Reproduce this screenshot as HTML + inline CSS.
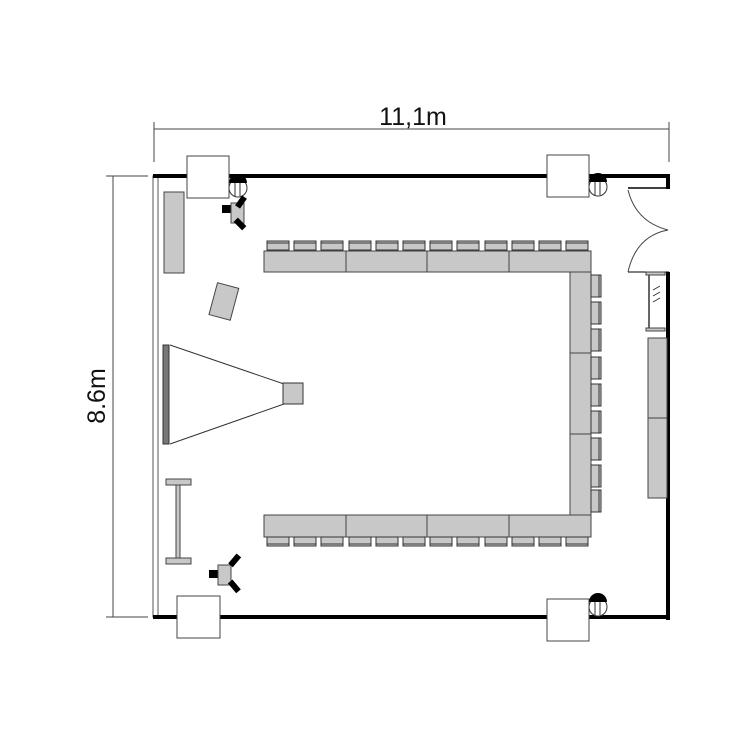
<!DOCTYPE html>
<html><head><meta charset="utf-8"><style>
html,body{margin:0;padding:0;background:#fff;}
svg{display:block;}
text{font-family:"Liberation Sans",sans-serif;}
</style></head><body>
<svg width="749" height="746" viewBox="0 0 749 746" xmlns="http://www.w3.org/2000/svg">
<defs>
<g id="ch"><rect x="0" y="0" width="22" height="9" fill="#c8c8c8" stroke="#333" stroke-width="1"/><line x1="0" y1="2" x2="22" y2="2" stroke="#333" stroke-width="1"/></g>
<g id="chd"><rect x="0" y="0" width="22" height="9" fill="#c8c8c8" stroke="#333" stroke-width="1"/><line x1="0" y1="7" x2="22" y2="7" stroke="#333" stroke-width="1"/></g>
<g id="chr"><rect x="0" y="0" width="10" height="22" fill="#c8c8c8" stroke="#333" stroke-width="1"/><line x1="8" y1="0" x2="8" y2="22" stroke="#333" stroke-width="1"/></g>
</defs>
<line x1="154" y1="129" x2="669" y2="129" stroke="#444" stroke-width="1"/>
<line x1="154" y1="122" x2="154" y2="162" stroke="#444" stroke-width="1"/>
<line x1="669" y1="122" x2="669" y2="162" stroke="#444" stroke-width="1"/>
<text x="413" y="125" font-size="25" text-anchor="middle" fill="#111">11,1m</text>
<line x1="113" y1="176" x2="113" y2="617" stroke="#444" stroke-width="1"/>
<line x1="106" y1="176" x2="148" y2="176" stroke="#444" stroke-width="1"/>
<line x1="106" y1="617" x2="148" y2="617" stroke="#444" stroke-width="1"/>
<text x="0" y="0" font-size="25" text-anchor="middle" fill="#111" transform="translate(105,396) rotate(-90)">8.6m</text>
<rect x="153" y="176" width="5" height="441" fill="#fff" stroke="#555" stroke-width="1"/>
<rect x="153" y="174" width="516" height="4" fill="#000"/>
<rect x="666" y="174" width="4" height="15" fill="#000"/>
<line x1="628" y1="188" x2="669" y2="188" stroke="#000" stroke-width="1.5"/>
<rect x="666" y="272" width="4" height="348" fill="#000"/>
<rect x="153" y="615" width="517" height="4" fill="#000"/>
<line x1="628" y1="272" x2="669" y2="272" stroke="#000" stroke-width="1"/>
<path d="M628,190 Q636,222 668,230 Q636,236 628,272" fill="none" stroke="#444" stroke-width="1"/>
<rect x="187" y="156" width="42" height="42" fill="#fff" stroke="#444" stroke-width="1"/>
<rect x="547" y="155" width="42" height="42" fill="#fff" stroke="#444" stroke-width="1"/>
<rect x="177" y="596" width="43" height="42" fill="#fff" stroke="#444" stroke-width="1"/>
<rect x="547" y="599" width="42" height="42" fill="#fff" stroke="#444" stroke-width="1"/>
<g fill="#fff" stroke="#333" stroke-width="1">
<circle cx="238" cy="188" r="9"/><circle cx="598" cy="187" r="9"/><circle cx="598" cy="607" r="9"/>
</g>
<g stroke="#333" stroke-width="1">
<line x1="235" y1="182" x2="235" y2="196"/><line x1="240" y1="182" x2="240" y2="196"/>
<line x1="595" y1="181" x2="595" y2="195"/><line x1="600" y1="181" x2="600" y2="195"/>
<line x1="595" y1="601" x2="595" y2="615"/><line x1="600" y1="601" x2="600" y2="615"/>
</g>
<path d="M229,183 A9,9 0 0 1 247,183 Z" fill="#000"/>
<path d="M589,182 A9,9 0 0 1 607,182 Z" fill="#000"/>
<path d="M589,602 A9,9 0 0 1 607,602 Z" fill="#000"/>
<rect x="164" y="192" width="20" height="81" fill="#c8c8c8" stroke="#444" stroke-width="1"/>
<rect x="213" y="285" width="22" height="33" fill="#c8c8c8" stroke="#444" stroke-width="1" transform="rotate(15 224 301)"/>
<rect x="222" y="205" width="9" height="8" fill="#000"/>
<rect x="231" y="203" width="13" height="20" fill="#c8c8c8" stroke="#444" stroke-width="1"/>
<rect x="238" y="196" width="6" height="12" fill="#000" transform="rotate(35 241 202)"/>
<rect x="237" y="218" width="6" height="12" fill="#000" transform="rotate(-45 240 224)"/>
<rect x="209" y="570" width="9" height="8" fill="#000"/>
<rect x="218" y="565" width="13" height="20" fill="#c8c8c8" stroke="#444" stroke-width="1"/>
<rect x="232" y="554" width="6" height="13" fill="#000" transform="rotate(40 235 560)"/>
<rect x="231" y="580" width="6" height="13" fill="#000" transform="rotate(-40 234 586)"/>
<rect x="163" y="345" width="6" height="99" fill="#777" stroke="#333" stroke-width="1"/>
<line x1="170" y1="345" x2="284" y2="384" stroke="#333" stroke-width="1"/>
<line x1="170" y1="444" x2="284" y2="404" stroke="#333" stroke-width="1"/>
<rect x="283" y="383" width="20" height="21" fill="#c8c8c8" stroke="#333" stroke-width="1"/>
<rect x="166" y="479" width="25" height="6" fill="#c8c8c8" stroke="#444" stroke-width="1"/>
<rect x="166" y="558" width="25" height="6" fill="#c8c8c8" stroke="#444" stroke-width="1"/>
<rect x="176" y="485" width="4" height="73" fill="#c8c8c8" stroke="#444" stroke-width="1"/>
<line x1="649" y1="274" x2="649" y2="331" stroke="#333" stroke-width="1.5"/>
<rect x="646" y="272" width="19" height="3" fill="#c8c8c8" stroke="#444" stroke-width="1"/>
<rect x="646" y="328" width="19" height="3" fill="#c8c8c8" stroke="#444" stroke-width="1"/>
<line x1="653" y1="290" x2="660" y2="286" stroke="#333"/><line x1="653" y1="296" x2="660" y2="292" stroke="#333"/><line x1="653" y1="302" x2="660" y2="298" stroke="#333"/>
<rect x="648" y="338" width="19" height="80" fill="#c8c8c8" stroke="#444" stroke-width="1"/>
<rect x="648" y="418" width="19" height="80" fill="#c8c8c8" stroke="#444" stroke-width="1"/>
<g fill="#c8c8c8" stroke="#444" stroke-width="1">
<rect x="264" y="251" width="82" height="21"/><rect x="346" y="251" width="81" height="21"/><rect x="427" y="251" width="82" height="21"/><rect x="509" y="251" width="82" height="21"/>
<rect x="570" y="272" width="21" height="81"/><rect x="570" y="353" width="21" height="81"/><rect x="570" y="434" width="21" height="81"/>
<rect x="264" y="515" width="82" height="22"/><rect x="346" y="515" width="81" height="22"/><rect x="427" y="515" width="82" height="22"/><rect x="509" y="515" width="82" height="22"/>
</g>
<use href="#ch" x="267" y="241"/><use href="#ch" x="294" y="241"/><use href="#ch" x="321" y="241"/><use href="#ch" x="349" y="241"/><use href="#ch" x="376" y="241"/><use href="#ch" x="403" y="241"/><use href="#ch" x="430" y="241"/><use href="#ch" x="457" y="241"/><use href="#ch" x="485" y="241"/><use href="#ch" x="512" y="241"/><use href="#ch" x="539" y="241"/><use href="#ch" x="566" y="241"/>
<use href="#chd" x="267" y="537"/><use href="#chd" x="294" y="537"/><use href="#chd" x="321" y="537"/><use href="#chd" x="349" y="537"/><use href="#chd" x="376" y="537"/><use href="#chd" x="403" y="537"/><use href="#chd" x="430" y="537"/><use href="#chd" x="457" y="537"/><use href="#chd" x="485" y="537"/><use href="#chd" x="512" y="537"/><use href="#chd" x="539" y="537"/><use href="#chd" x="566" y="537"/>
<use href="#chr" x="591" y="275"/><use href="#chr" x="591" y="302"/><use href="#chr" x="591" y="329"/><use href="#chr" x="591" y="357"/><use href="#chr" x="591" y="384"/><use href="#chr" x="591" y="411"/><use href="#chr" x="591" y="438"/><use href="#chr" x="591" y="465"/><use href="#chr" x="591" y="490"/>
</svg>
</body></html>
